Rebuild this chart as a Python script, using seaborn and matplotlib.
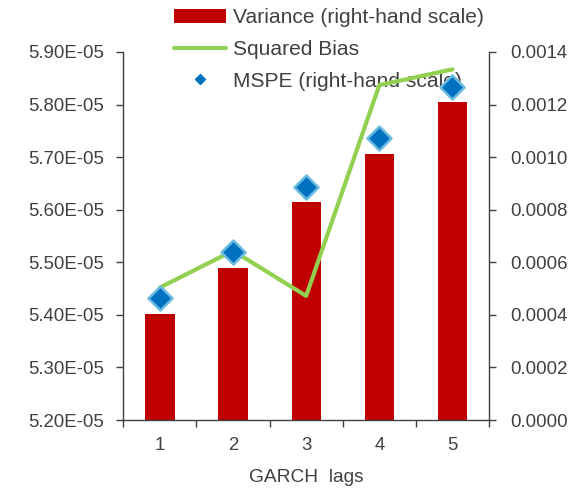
import matplotlib
matplotlib.use("Agg")
import matplotlib.pyplot as plt
import seaborn as sns
import pandas as pd
import numpy as np
from matplotlib.lines import Line2D
from matplotlib.patches import Patch
from matplotlib.ticker import FuncFormatter, FixedLocator

lags = ["1", "2", "3", "4", "5"]
variance = [0.000403, 0.000579, 0.000828, 0.001013, 0.001209]
mspe = [0.000463, 0.000638, 0.000888, 0.001073, 0.001268]
squared_bias = [5.452e-05, 5.522e-05, 5.436e-05, 5.837e-05, 5.867e-05]
left_ticks = [5.20e-05, 5.30e-05, 5.40e-05, 5.50e-05, 5.60e-05, 5.70e-05, 5.80e-05, 5.90e-05]
right_ticks = [0.0, 0.0002, 0.0004, 0.0006, 0.0008, 0.0010, 0.0012, 0.0014]

sns.set_style("white")
plt.rcParams["font.family"] = ["Liberation Sans", "DejaVu Sans"]
FS = 13.4
LFS = 15.1
TXT = "#404040"

df = pd.DataFrame({"lag": lags, "pos": np.arange(len(lags)), "variance": variance,
                   "mspe": mspe, "bias": squared_bias})

fig = plt.figure(figsize=(5.83, 4.91), dpi=100, facecolor="white")
ax = fig.add_axes([0.2115, 0.1446, 0.6273, 0.7495])
axr = ax.twinx()
axd = ax.twinx()

# bars on right-hand axis
sns.barplot(data=df, x="pos", y="variance", ax=axr, color="#C00000", width=0.4,
            saturation=1, native_scale=True, edgecolor="none")
# line on left axis
sns.lineplot(data=df, x="pos", y="bias", ax=ax, color="#92D050", linewidth=3.0)
# diamonds on right scale
sns.scatterplot(data=df, x="pos", y="mspe", ax=axd, marker="D", s=150,
                color="#0070C0", edgecolor="#6CBCE0", linewidth=1.8, zorder=5)

axr.set_zorder(1)
ax.set_zorder(2)
axd.set_zorder(3)
for a in (ax, axr, axd):
    a.patch.set_visible(False)

for a in (ax, axr, axd):
    a.set_xlim(-0.5, 4.5)
    a.set_xlabel("")
    a.set_ylabel("")

ax.set_ylim(5.2e-05, 5.9e-05)
axr.set_ylim(0, 0.0014)
axd.set_ylim(0, 0.0014)

ax.yaxis.set_major_locator(FixedLocator(left_ticks))
ax.yaxis.set_major_formatter(FuncFormatter(lambda v, p: f"{v*1e5:.2f}E-05"))
axr.yaxis.set_major_locator(FixedLocator(right_ticks))
axr.yaxis.set_major_formatter(FuncFormatter(lambda v, p: f"{v:.4f}"))

ax.set_xticks(np.arange(len(lags)))
ax.set_xticklabels(lags)
ax.set_xticks(np.arange(len(lags) + 1) - 0.5, minor=True)
ax.tick_params(axis="x", which="major", length=0, labelsize=FS, colors=TXT, pad=12)
ax.tick_params(axis="x", which="minor", length=5, width=1, color="#404040", direction="out", bottom=True)
ax.tick_params(axis="y", which="major", length=5, width=1, labelsize=FS, colors=TXT,
               direction="out", left=True, pad=9)
axr.tick_params(axis="y", which="major", length=5, width=1, labelsize=FS, colors=TXT,
                direction="out", right=True, pad=10)
axr.tick_params(axis="x", bottom=False, labelbottom=False)
axd.tick_params(axis="both", left=False, right=False, bottom=False,
                labelleft=False, labelright=False, labelbottom=False)

for a in (ax, axr, axd):
    for s in a.spines.values():
        s.set_visible(False)
ax.spines["left"].set_visible(True)
ax.spines["bottom"].set_visible(True)
axr.spines["right"].set_visible(True)
for s in (ax.spines["left"], ax.spines["bottom"], axr.spines["right"]):
    s.set_color("#404040")
    s.set_linewidth(1.0)

ax.set_xlabel("GARCH  lags", fontsize=FS + 0.4, color=TXT, labelpad=11)

handles = [Patch(facecolor="#C00000", edgecolor="none"),
           Line2D([0], [0], color="#92D050", linewidth=3.0),
           Line2D([0], [0], marker="D", color="#0070C0", linestyle="none", markersize=5)]
labels = ["Variance (right-hand scale)", "Squared Bias", "MSPE (right-hand scale)"]
leg = fig.legend(handles, labels, loc="upper left", bbox_to_anchor=(0.2985, 0.983),
                 frameon=False, fontsize=LFS, handlelength=2.5, handletextpad=0.3,
                 labelspacing=0.6, borderaxespad=0.0, borderpad=0.0)
for t in leg.get_texts():
    t.set_color(TXT)
leg.set_zorder(0.5)

fig.savefig("out.png", dpi=100, facecolor="white")
